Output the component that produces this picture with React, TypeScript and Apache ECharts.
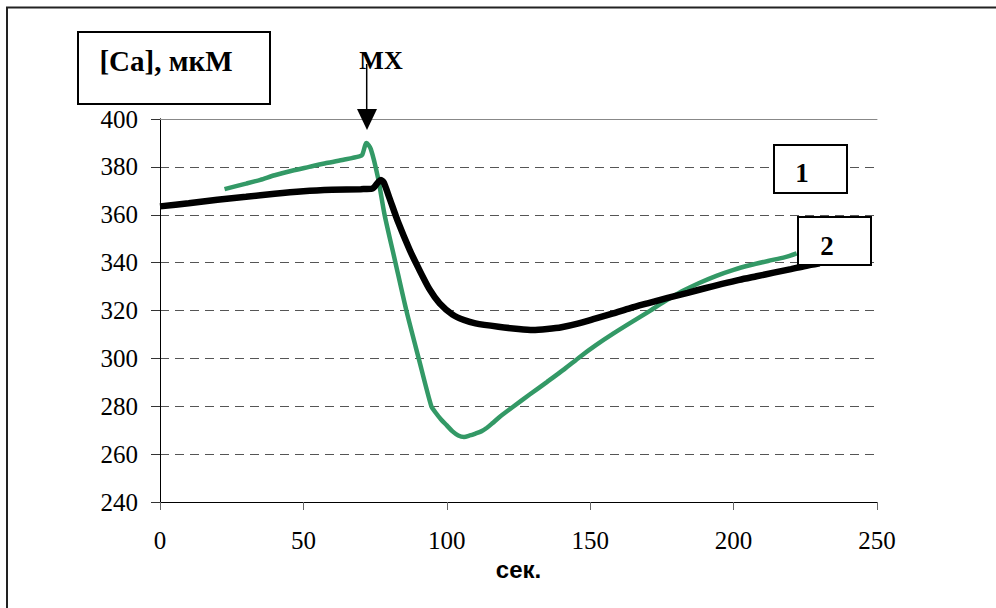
import React, { useEffect, useRef } from "react";
import * as echarts from "echarts";

const xTicks = [0, 50, 100, 150, 200, 250];
const yTicks = [240, 260, 280, 300, 320, 340, 360, 380, 400];

// curve 1 (black): [time, Ca]
const curve1: [number, number][] = [
  [0, 363.5], [10, 364.8], [20, 366.3], [30, 367.5], [40, 368.8], [50, 369.8],
  [60, 370.4], [70, 370.7], [74, 370.9], [76, 373.5], [77, 374.5], [78, 373.5],
  [80, 367], [83, 357], [87, 345.5], [90, 338], [94, 328.8], [97.5, 323],
  [102, 318.3], [106, 316], [110, 314.6], [118, 313.2], [125, 312.3], [130, 311.9],
  [135, 312.3], [140, 313], [146, 314.6], [152, 316.7], [158, 318.8], [164, 321],
  [170, 323], [177, 325.3], [184, 327.4], [190, 329.3], [196, 331.1], [202, 332.8],
  [208, 334.3], [214, 335.8], [220, 337.3], [225, 338.6], [230, 339.7],
];

// curve 2 (green): [time, Ca]
const curve2: [number, number][] = [
  [22.5, 370.7], [30, 373], [35, 374.6], [40, 376.5], [46, 378.4], [52, 380],
  [58, 381.6], [64, 383], [69.5, 384.4], [70.5, 385], [72, 390], [73.5, 387.5],
  [76, 375.5], [78.3, 360], [82, 340.5], [85.9, 320], [90.2, 300], [94.6, 280],
  [96, 277.5], [98, 274.5], [100, 272], [102, 269.5], [104, 267.8], [106, 267.2],
  [108, 267.8], [110, 268.6], [112, 269.5], [114, 271], [116, 273], [118.5, 275.6],
  [123, 279.7], [129, 285], [135, 290.2], [141, 295.5], [146.5, 300.7], [152, 305.5],
  [158, 310.3], [164, 314.8], [170, 319.2], [176, 323.8], [182, 328], [188, 331.5],
  [194, 334.5], [200, 337], [206, 339], [212, 340.7], [218, 342.3], [222, 343.9],
];

const yTitle = "[Ca], мкМ";
const xTitle = "сек.";
const markerText = "МХ";
const labels = ["1", "2"];

export default function App() {
  const ref = useRef<HTMLDivElement>(null);
  useEffect(() => {
    if (!ref.current) return;
    const chart = echarts.init(ref.current, undefined, { renderer: "svg" });
    const serif = "Liberation Serif";
    const sans = "Liberation Sans";
    chart.setOption({
      animation: false,
      backgroundColor: "#fff",
      grid: { left: 160, top: 119, width: 717, height: 383 },
      xAxis: [
        {
          type: "value",
          min: xTicks[0],
          max: xTicks[xTicks.length - 1],
          interval: 50,
          position: "bottom",
          name: xTitle,
          nameLocation: "middle",
          nameGap: 55,
          nameTextStyle: { fontFamily: sans, fontWeight: "bold", fontSize: 24, color: "#000" },
          axisLine: { show: true, lineStyle: { color: "#000", width: 1 } },
          axisTick: { show: true, inside: false, length: 8, lineStyle: { color: "#666" } },
          axisLabel: { fontFamily: serif, fontSize: 25, color: "#000", margin: 26 },
          splitLine: { show: false },
        },
        {
          type: "value",
          min: xTicks[0],
          max: xTicks[xTicks.length - 1],
          interval: 50,
          position: "top",
          axisLine: { show: true, lineStyle: { color: "#888", width: 1 } },
          axisTick: { show: false },
          axisLabel: { show: false },
          splitLine: { show: false },
        },
      ],
      yAxis: [
        {
          type: "value",
          min: yTicks[0],
          max: yTicks[yTicks.length - 1],
          interval: 20,
          position: "left",
          name: yTitle,
          nameLocation: "end",
          nameGap: 44,
          nameTextStyle: { fontFamily: serif, fontWeight: "bold", fontSize: 29, color: "#000", align: "center", padding: [0, 0, 0, 12] },
          axisLine: { show: true, lineStyle: { color: "#000", width: 1 } },
          axisTick: { show: true, inside: false, length: 9, lineStyle: { color: "#333" } },
          axisLabel: { fontFamily: serif, fontSize: 25, color: "#000", margin: 22 },
          splitLine: { show: true, lineStyle: { color: "#555", width: 1, type: [9, 6] } },
        },
        {
          type: "value",
          min: yTicks[0],
          max: yTicks[yTicks.length - 1],
          interval: 20,
          position: "right",
          axisLine: { show: true, lineStyle: { color: "#000", width: 1 } },
          axisTick: { show: false },
          axisLabel: { show: false },
          splitLine: { show: false },
        },
      ],
      series: [
        {
          name: "2",
          type: "line",
          data: curve2,
          showSymbol: false,
          smooth: 0.25,
          lineStyle: { color: "#339966", width: 4.5 },
          itemStyle: { color: "#339966" },
          z: 2,
        },
        {
          name: "1",
          type: "line",
          data: curve1,
          showSymbol: false,
          smooth: 0.25,
          lineStyle: { color: "#000", width: 6.5 },
          itemStyle: { color: "#000" },
          z: 3,
        },
      ],
      graphic: [
        {
          type: "polyline",
          z: 100,
          shape: { points: [[7, 608], [7, 7.5], [996, 7.5]] },
          style: { stroke: "#222", lineWidth: 2, fill: "none" },
        },
        {
          type: "rect",
          z: 100,
          shape: { x: 78, y: 32, width: 192, height: 72 },
          style: { stroke: "#000", lineWidth: 2, fill: "none" },
        },
        {
          type: "text",
          z: 100,
          x: 381,
          y: 60,
          style: {
            text: markerText,
            fontFamily: serif,
            fontWeight: "bold",
            fontSize: 26,
            fill: "#000",
            align: "center",
            verticalAlign: "middle",
          },
        },
        {
          type: "line",
          z: 100,
          shape: { x1: 366.7, y1: 64, x2: 366.7, y2: 112 },
          style: { stroke: "#000", lineWidth: 1.5 },
        },
        {
          type: "polygon",
          z: 100,
          shape: { points: [[357, 109], [377, 109], [367, 130]] },
          style: { fill: "#000" },
        },
        {
          type: "rect",
          z: 100,
          shape: { x: 774, y: 145, width: 73, height: 48 },
          style: { stroke: "#000", lineWidth: 2, fill: "#fff" },
        },
        {
          type: "text",
          z: 101,
          x: 802,
          y: 173,
          style: {
            text: labels[0],
            fontFamily: serif,
            fontWeight: "bold",
            fontSize: 27,
            fill: "#000",
            align: "center",
            verticalAlign: "middle",
          },
        },
        {
          type: "rect",
          z: 100,
          shape: { x: 798, y: 217, width: 73, height: 48 },
          style: { stroke: "#000", lineWidth: 2, fill: "#fff" },
        },
        {
          type: "text",
          z: 101,
          x: 827,
          y: 246,
          style: {
            text: labels[1],
            fontFamily: serif,
            fontWeight: "bold",
            fontSize: 27,
            fill: "#000",
            align: "center",
            verticalAlign: "middle",
          },
        },
      ],
    });
    return () => chart.dispose();
  }, []);
  return (
    <div
      ref={ref}
      style={{ position: "fixed", left: 0, top: 0, width: 996, height: 608, background: "#fff" }}
    />
  );
}
